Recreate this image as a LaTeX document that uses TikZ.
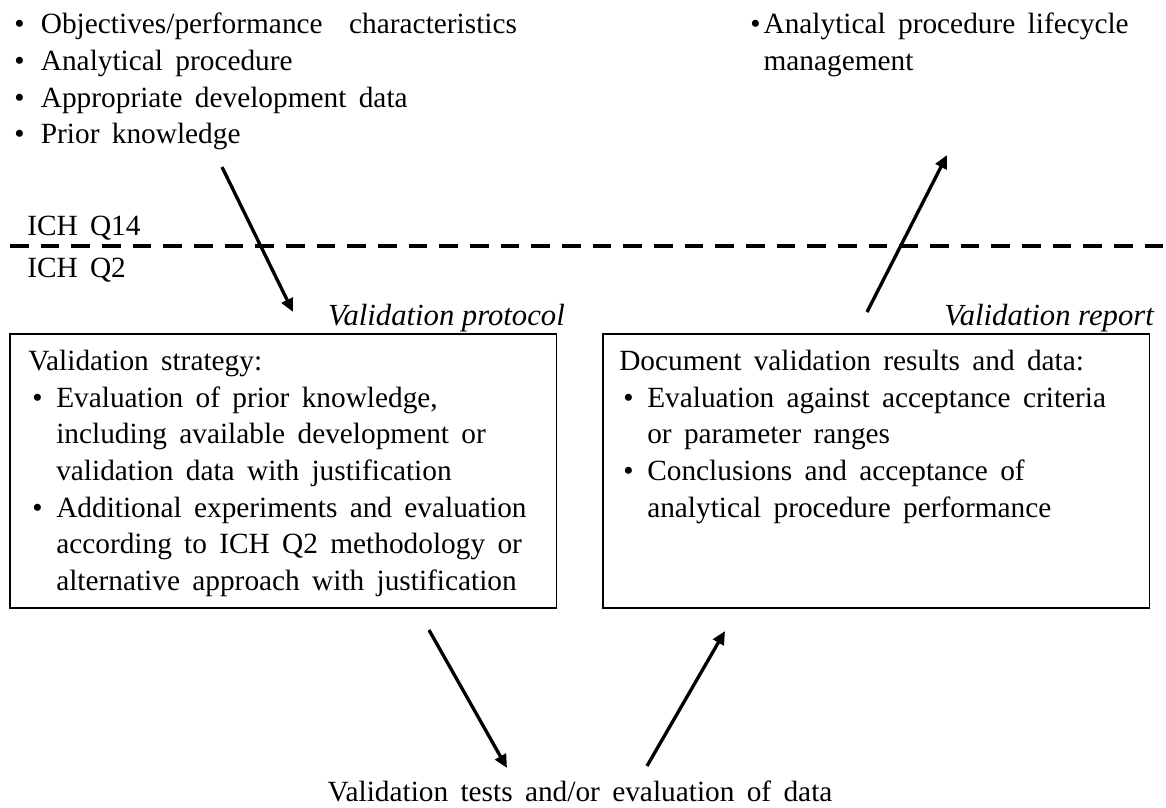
\documentclass[tikz,border=0pt]{standalone}
\usepackage{fontspec}
\setmainfont{Liberation Serif}
\usetikzlibrary{arrows.meta}

% text font with the wide word spaces of the slide
\newcommand{\slidefont}{\fontsize{22}{27.5}\selectfont\spaceskip=0.42em plus 0.1em\relax}
% bullet boxes for the lists
\newcommand{\bitem}{\hspace*{3pt}\makebox[18pt][l]{\textbullet}}
\newcommand{\bcont}{\hspace*{21pt}}

\begin{document}
\begin{tikzpicture}[x=0.75pt, y=-0.75pt,
    every node/.style={inner sep=0pt, font=\slidefont},
    list/.style={anchor=north west, align=left},
    tag/.style={anchor=base east, font=\fontsize{23}{27.5}\selectfont\itshape},
    frame/.style={draw, line width=1.2pt, anchor=north west, minimum width=410pt, minimum height=205.5pt},
    arr/.style={-{Triangle[length=10pt, width=9pt]}, line width=2.5pt},
    divider/.style={line width=3pt, dash pattern=on 14pt off 9pt}]
    \useasboundingbox (0,0) rectangle (1166,807);

    % Define the inputs (top left) and the outcome (top right)
    \node[list] (inputs) at (14, 13) {\makebox[20pt][l]{\textbullet}\makebox[357pt][s]{Objectives/performance characteristics}\\
        \makebox[20pt][l]{\textbullet}Analytical procedure\\
        \makebox[20pt][l]{\textbullet}Appropriate development data\\
        \makebox[20pt][l]{\textbullet}Prior knowledge};
    \node[list] (outputs) at (750, 13) {\makebox[10pt][l]{\textbullet}Analytical procedure lifecycle\\
        \hspace*{10pt}management};

    % Define the guideline divider
    \node[anchor=base west] (q14) at (27, 235) {ICH Q14};
    \node[anchor=base west] (q2) at (27, 277) {ICH Q2};
    \coordinate (divl) at (10, 246);
    \coordinate (divr) at (1166, 246);
    \draw[divider] (divl) -- (divr);

    % Define the protocol and report boxes
    \node[frame] (protocol) at (9, 333) {};
    \node[frame] (report) at (602, 333) {};
    \node[tag] (protocoltag) at (565, 325) {Validation protocol};
    \node[tag] (reporttag) at (1154, 325) {Validation report};

    \node[list] (protocoltext) at (28, 350) {Validation strategy:\\
        \bitem Evaluation of prior knowledge,\\
        \bcont including available development or\\
        \bcont validation data with justification\\
        \bitem Additional experiments and evaluation\\
        \bcont according to ICH Q2 methodology or\\
        \bcont alternative approach with justification};
    \node[list] (reporttext) at (619, 350) {Document validation results and data:\\
        \bitem Evaluation against acceptance criteria\\
        \bcont or parameter ranges\\
        \bitem Conclusions and acceptance of\\
        \bcont analytical procedure performance};

    \node[anchor=base] (tests) at (580, 801) {Validation tests and/or evaluation of data};

    % Draw the arrows
    \coordinate (a1) at (222, 167);
    \coordinate (b1) at (293, 312);
    \coordinate (a2) at (867, 312);
    \coordinate (b2) at (947, 155);
    \coordinate (a3) at (429, 630);
    \coordinate (b3) at (507, 768);
    \coordinate (a4) at (647, 766);
    \coordinate (b4) at (725, 631);
    \draw[arr] (a1) -- (b1);
    \draw[arr] (a2) -- (b2);
    \draw[arr] (a3) -- (b3);
    \draw[arr] (a4) -- (b4);
\end{tikzpicture}
\end{document}
